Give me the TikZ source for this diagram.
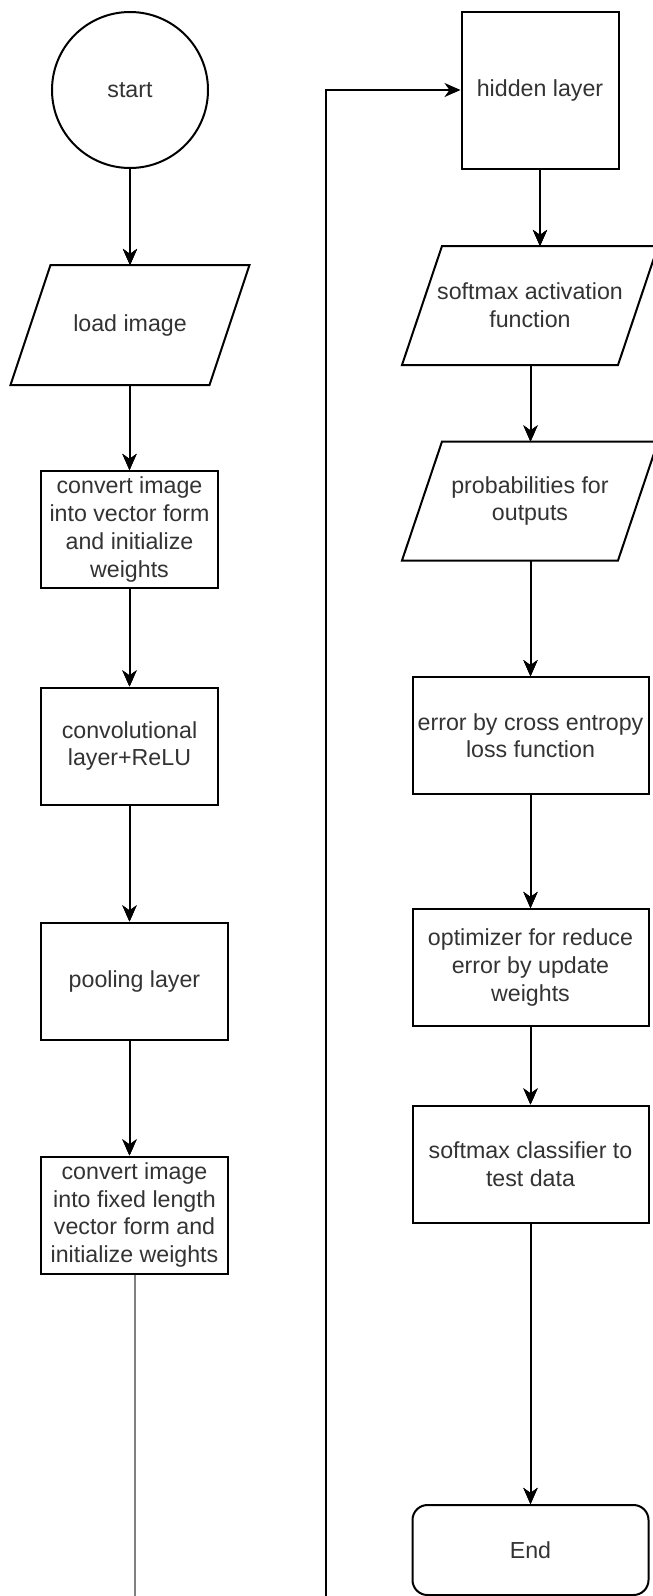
\documentclass[tikz,border=0pt]{standalone}
\usepackage{fontspec}
\setmainfont{Liberation Sans}
\usetikzlibrary{arrows.meta, shapes.geometric}

\tikzset{
    box/.style={draw, line width=1pt, rectangle, align=center, inner sep=0pt,
        text=black!80, font=\fontsize{11.6}{13.9}\selectfont},
    slanted/.style={box, draw=none},
    flow/.style={line width=1pt, -{Stealth[length=8pt, width=7pt, inset=2.5pt]}},
}

% parallelogram outline round a (not drawn) node
\newcommand{\slantframe}[1]{%
    \draw[line width=1pt] ([xshift=-10pt]#1.south west) -- ([xshift=10pt]#1.north west)
        -- ([xshift=10pt]#1.north east) -- ([xshift=-10pt]#1.south east) -- cycle;}

\begin{document}
\begin{tikzpicture}[x=0.5pt, y=-0.5pt]
        % Page size
        \fill[white] (0,0) rectangle (653,1596);
        \useasboundingbox (0,0) rectangle (653,1596);
        % Left column
        \node[box, circle, minimum size=78pt] (start) at (130,90) {start};
        \node[slanted, minimum width=98.5pt, minimum height=59pt] (load) at (130,325) {load image};
        \node[box, minimum width=88.5pt, minimum height=58.5pt] (vec1) at (129.5,529.5)
            {convert image\\into vector form\\and initialize\\weights};
        \node[box, minimum width=88.5pt, minimum height=58.5pt] (conv) at (129.5,746)
            {convolutional\\layer+ReLU};
        \node[box, minimum width=93.5pt, minimum height=58.5pt] (pool) at (134.5,981) {pooling layer};
        \node[box, minimum width=93.5pt, minimum height=58.5pt] (fixed) at (134.5,1215)
            {convert image\\into fixed length\\vector form and\\initialize weights};
        % Right column
        \node[box, minimum width=78.5pt, minimum height=78.5pt] (hidden) at (540,90) {hidden layer};
        \node[slanted, minimum width=107pt, minimum height=58.5pt] (softmax) at (530,305.5)
            {softmax activation\\function};
        \node[slanted, minimum width=107pt, minimum height=58.5pt] (prob) at (530,501)
            {probabilities for\\outputs};
        \node[box, minimum width=118pt, minimum height=58.5pt] (error) at (530.5,735.7)
            {error by cross entropy\\loss function};
        \node[box, minimum width=118pt, minimum height=58.5pt] (optim) at (530.5,967.5)
            {optimizer for reduce\\error by update\\weights};
        \node[box, minimum width=118pt, minimum height=58.5pt] (classify) at (530.5,1164)
            {softmax classifier to\\test data};
        \node[box, rounded corners=7.5pt, minimum width=118pt, minimum height=45pt] (finish) at (530.5,1550) {End};
        % Parallelogram outlines
        \foreach \n in {load, softmax, prob}
            \slantframe{\n}
        % Arrows down each column
        \foreach \a/\b/\x in {start/load/130, load/vec1/129.5, vec1/conv/129.5, conv/pool/129.5,
                pool/fixed/129.5, hidden/softmax/540, softmax/prob/530.5, prob/error/530.5,
                error/optim/530.5, optim/classify/530.5, classify/finish/530.5}
            \draw[flow] (\a.south -| \x,0) -- (\b.north -| \x,0);
        % Link from left column to hidden layer
        \coordinate (loopL) at (135,1596);
        \coordinate (loopR) at (326,1596);
        \draw[line width=1pt, black!50] (fixed.south) -- (fixed.south |- loopL);
        \draw[flow] (loopR) |- (hidden.west);
    \end{tikzpicture}
\end{document}
